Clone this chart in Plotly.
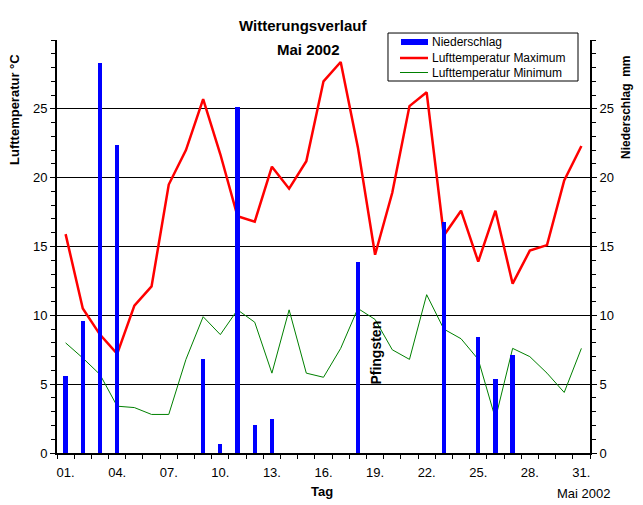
import plotly.graph_objects as go

days = list(range(1, 32))
temp_max = [15.9, 10.5, 8.6, 7.2, 10.7, 12.1, 19.5, 22.0, 25.7, 21.7,
            17.2, 16.8, 20.8, 19.2, 21.2, 27.0, 28.4, 22.2, 14.4, 18.9,
            25.2, 26.2, 15.8, 17.6, 13.9, 17.6, 12.3, 14.7, 15.1, 19.8, 22.3]
temp_min = [8.0, 6.9, 5.7, 3.4, 3.3, 2.8, 2.8, 6.8, 9.9, 8.6,
            10.4, 9.5, 5.8, 10.4, 5.8, 5.5, 7.6, 10.5, 9.7, 7.5,
            6.8, 11.5, 9.0, 8.3, 6.8, 2.5, 7.6, 7.0, 5.8, 4.4, 7.6]
rain_days = [1, 2, 3, 4, 9, 10, 11, 12, 13, 18, 23, 25, 26, 27]
rain_mm = [5.6, 9.6, 28.3, 22.4, 6.8, 0.65, 25.1, 2.0, 2.5, 13.9, 16.8, 8.4, 5.4, 7.1]
x_tick_vals = [1, 4, 7, 10, 13, 16, 19, 22, 25, 28, 31]
x_tick_text = ["01.", "04.", "07.", "10.", "13.", "16.", "19.", "22.", "25.", "28.", "31."]
y_tick_vals = [0, 5, 10, 15, 20, 25]
legend_names = ["Niederschlag", "Lufttemperatur Maximum", "Lufttemperatur Minimum"]

FONT = "Liberation Sans, Arial, sans-serif"
BLUE, RED, GREEN = "#0000ff", "#ff0000", "#008000"

fig = go.Figure()
fig.add_trace(go.Scatter(x=days, y=temp_max, mode="lines", name=legend_names[1],
                         line=dict(color=RED, width=2.5)))
fig.add_trace(go.Scatter(x=days, y=temp_min, mode="lines", name=legend_names[2],
                         line=dict(color=GREEN, width=1)))
fig.add_trace(go.Bar(x=rain_days, y=rain_mm, width=0.25, marker=dict(color=BLUE, line=dict(width=0)),
                     yaxis="y2", name=legend_names[0]))

axis_common = dict(color="black", linecolor="black", linewidth=2, showline=True, zeroline=False,
                   tickfont=dict(family=FONT, size=13, color="black"))

# the page body has an 8px margin, so the figure is 8px smaller and margins shifted
fig.update_layout(
    width=635, height=497,
    margin=dict(l=49, r=53, t=32, b=52, autoexpand=False),
    paper_bgcolor="white", plot_bgcolor="white",
    showlegend=False,
    font=dict(family=FONT, color="black"),
    xaxis=dict(range=[0.5, 31.5], tickmode="array", tickvals=x_tick_vals, ticktext=x_tick_text,
               ticks="outside", ticklen=6, tickcolor="rgba(0,0,0,0)", showgrid=False,
               minor=dict(tickmode="linear", tick0=0.5, dtick=1, ticks="outside", ticklen=4,
                          tickcolor="black", tickwidth=1, showgrid=False),
               **axis_common),
    yaxis=dict(range=[0, 30], tickmode="array", tickvals=y_tick_vals, ticks="outside", ticklen=5,
               tickwidth=1, tickcolor="black", showgrid=True, gridcolor="black", gridwidth=1,
               minor=dict(tickmode="linear", tick0=0, dtick=1, ticks="outside", ticklen=4,
                          tickcolor="black", tickwidth=1, showgrid=False),
               **axis_common),
    yaxis2=dict(range=[0, 30], overlaying="y", side="right", tickmode="array", tickvals=y_tick_vals,
                ticks="outside", ticklen=5, tickwidth=1, tickcolor="black", showgrid=False,
                minor=dict(tickmode="linear", tick0=0, dtick=1, ticks="outside", ticklen=4,
                           tickcolor="black", tickwidth=1, showgrid=False),
                **axis_common),
    bargap=0,
)

def ann(text, x, y, size, bold=False, angle=0, xref="paper", yref="paper", xanchor="center"):
    fig.add_annotation(text=f"<b>{text}</b>" if bold else text, x=x, y=y, xref=xref, yref=yref,
                       xanchor=xanchor, yanchor="middle", showarrow=False, textangle=angle,
                       font=dict(family=FONT, size=size, color="black"))

ann("Witterungsverlauf", 0.4615, 1.036, 15, bold=True)
ann("Mai 2002", 0.471, 0.976, 15, bold=True)
ann("Tag", 0.497, -0.0944, 13, bold=True)
ann("Mai 2002", 0.987, -0.0969, 13)
ann("Lufttemperatur °C", -0.0788, 0.833, 13, bold=True, angle=-90)
ann("Niederschlag\u00a0\u00a0mm", 1.0675, 0.838, 12, bold=True, angle=-90)
ann("Pfingsten", 19, 7.3, 14, bold=True, angle=-90, xref="x", yref="y")

# legend box (paper coordinates)
fig.add_shape(type="rect", xref="paper", yref="paper", x0=0.621, x1=0.9775, y0=0.9007, y1=1.0169,
              line=dict(color="black", width=1), fillcolor="white", layer="above")
fig.add_shape(type="rect", xref="paper", yref="paper", x0=0.6454, x1=0.6961, y0=0.9879, y1=1.0024,
              line=dict(width=0), fillcolor=BLUE, layer="above")
fig.add_shape(type="line", xref="paper", yref="paper", x0=0.6435, x1=0.6961, y0=0.9564, y1=0.9564,
              line=dict(color=RED, width=2.5), layer="above")
fig.add_shape(type="line", xref="paper", yref="paper", x0=0.6435, x1=0.6961, y0=0.9213, y1=0.9213,
              line=dict(color=GREEN, width=1), layer="above")
for name, yy in zip(legend_names, [0.9952, 0.9564, 0.9213]):
    ann(name, 0.6998, yy, 12, xanchor="left")

fig.write_html("out.html")
